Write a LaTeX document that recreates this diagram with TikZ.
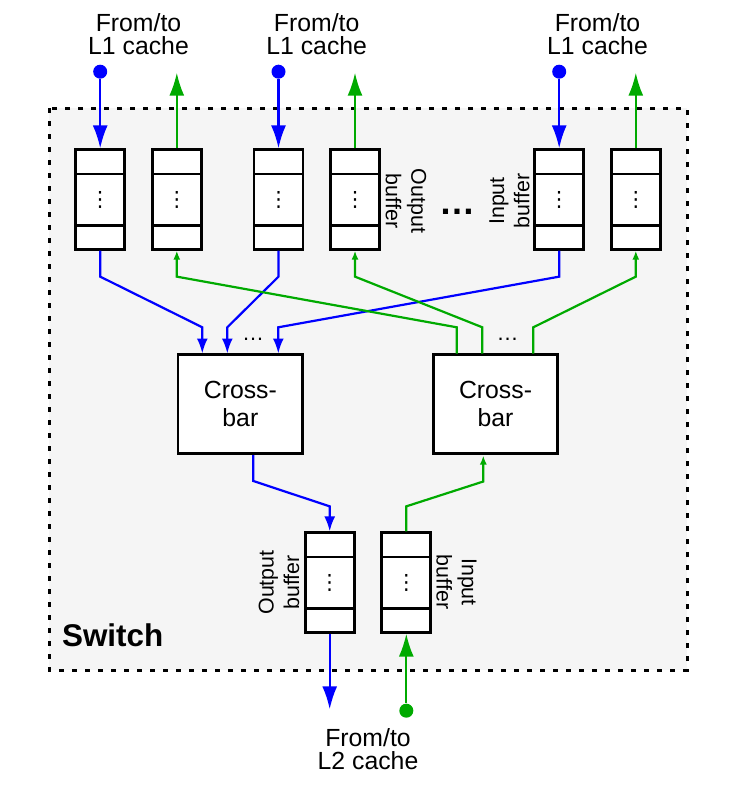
\documentclass[tikz,border=0pt]{standalone}
\usepackage{fontspec}
\setmainfont{Liberation Sans}
\newfontfamily\symfont{DejaVu Sans}
\usetikzlibrary{arrows.meta,calc}

\newcommand{\bufdots}{{\symfont ⋮}}

\begin{document}
\begin{tikzpicture}[x=0.5pt,y=0.5pt,yscale=-1,xscale=1,
  buf/.style={draw, line width=1.35pt, fill=white, inner sep=0pt,
    minimum width=24.5pt, minimum height=49.8pt, font=\fontsize{10.5}{12}\selectfont,
    path picture={
      \draw[line width=1.35pt] ($(path picture bounding box.north west)!.245!(path picture bounding box.south west)$) -- ($(path picture bounding box.north east)!.245!(path picture bounding box.south east)$);
      \draw[line width=1.35pt] ($(path picture bounding box.north west)!.76!(path picture bounding box.south west)$) -- ($(path picture bounding box.north east)!.76!(path picture bounding box.south east)$);
    }},
  xbar/.style={draw, line width=1.35pt, fill=white, inner sep=0pt, align=center,
    minimum width=62.3pt, minimum height=49.5pt, font=\fontsize{12.4}{13.7}\selectfont},
  cachelbl/.style={align=center, inner sep=0pt, font=\fontsize{12.4}{11.7}\selectfont},
  buflbl/.style={align=center, inner sep=0pt, font=\fontsize{10.7}{12.7}\selectfont},
  bl/.style={draw={rgb, 255:red, 0; green, 0; blue, 255}, line width=1.1pt},
  gl/.style={draw={rgb, 255:red, 0; green, 170; blue, 0}, line width=1.1pt},
  bdot/.style={circle, inner sep=0pt, minimum size=7pt, fill={rgb, 255:red, 0; green, 0; blue, 255}},
  gdot/.style={circle, inner sep=0pt, minimum size=7pt, fill={rgb, 255:red, 0; green, 170; blue, 0}},
  bigarr/.style={-{Latex[length=11.5pt,width=7.5pt]}},
  midarr/.style={-{Latex[length=7.5pt,width=5.5pt]}},
  smallarr/.style={-{Latex[length=4.5pt,width=3.5pt]}}
]
\useasboundingbox (0,0) rectangle (737,790);

% switch frame
\draw[line width=1.5pt, dash pattern=on 2.5pt off 4pt, fill={rgb, 255:red, 245; green, 245; blue, 245}] (49,108.3) rectangle (687.3,670);
\node[anchor=base west, inner sep=0pt, font=\fontsize{15.7}{18}\selectfont\bfseries] (sw) at (61.7,646) {Switch};

% buffers towards the L1 caches
\node[buf] (b1) at (100.2,199.5) {\bufdots};
\node[buf] (b2) at (176.8,199.5) {\bufdots};
\node[buf] (b3) at (278.5,199.5) {\bufdots};
\node[buf] (b4) at (355,199.5) {\bufdots};
\node[buf] (b5) at (559.2,199.5) {\bufdots};
\node[buf] (b6) at (635.8,199.5) {\bufdots};

\node[buflbl, rotate=-90] (ob1) at (406,201) {Output\\buffer};
\node[buflbl, rotate=90] (ib1) at (509.5,201) {Input\\buffer};
\node[anchor=base, inner sep=0pt, font=\fontsize{18}{18}\selectfont\bfseries] (gap) at (457.5,214.3) {…};

\node[cachelbl] (l1a) at (138.5,34.3) {From/to\\L1 cache};
\node[cachelbl] (l1b) at (316.7,34.3) {From/to\\L1 cache};
\node[cachelbl] (l1c) at (597.5,34.3) {From/to\\L1 cache};

\node[bdot] (s1) at (100.2,71.7) {};
\node[bdot] (s2) at (278.5,71.7) {};
\node[bdot] (s3) at (559.2,71.7) {};
\coordinate (o1) at (176.8,72.7);
\coordinate (o2) at (355,72.7);
\coordinate (o3) at (635.8,72.7);

\draw[bl, bigarr] (s1) -- (b1);
\draw[bl, bigarr] (s2) -- (b3);
\draw[bl, bigarr] (s3) -- (b5);
\draw[gl, bigarr] (b2) -- (o1);
\draw[gl, bigarr] (b4) -- (o2);
\draw[gl, bigarr] (b6) -- (o3);

% crossbars
\node[xbar] (cbl) at (240.35,404.15) {Cross-\\bar};
\node[xbar] (cbr) at (495.5,404.15) {Cross-\\bar};

\coordinate (pl1) at (202.3,353.5);
\coordinate (pl2) at (227.3,353.5);
\coordinate (pl3) at (278.3,353.5);
\coordinate (pl4) at (253.3,455);
\coordinate (pr1) at (456.7,353.5);
\coordinate (pr2) at (482.3,353.5);
\coordinate (pr3) at (533.3,353.5);
\coordinate (pr4) at (483.3,455.5);

\node[anchor=base, inner sep=0pt, font=\fontsize{11}{11}\selectfont] (dl) at (253,340.5) {…};
\node[anchor=base, inner sep=0pt, font=\fontsize{11}{11}\selectfont] (dr) at (507.5,340.5) {…};

\draw[bl, midarr] (b1.south) -- ++(0,26) -- ($(pl1)+(0,-26.2)$) -- (pl1);
\draw[bl, midarr] (b3.south) -- ++(0,26) -- ($(pl2)+(0,-26.2)$) -- (pl2);
\draw[bl, midarr] (b5.south) -- ++(0,26) -- ($(pl3)+(0,-26.2)$) -- (pl3);
\draw[gl, smallarr] (pr1) -- ++(0,-26.2) -- ($(b2.south)+(0,26)$) -- (b2.south);
\draw[gl, smallarr] (pr2) -- ++(0,-26.2) -- ($(b4.south)+(0,26)$) -- (b4.south);
\draw[gl, smallarr] (pr3) -- ++(0,-26.2) -- ($(b6.south)+(0,26)$) -- (b6.south);

% buffers towards the L2 cache
\node[buf] (b7) at (329.7,582.5) {\bufdots};
\node[buf] (b8) at (406.3,582.5) {\bufdots};
\node[buflbl, rotate=90] (ob2) at (279,582.5) {Output\\buffer};
\node[buflbl, rotate=-90] (ib2) at (456.5,582) {Input\\buffer};

\draw[bl, midarr] (pl4) -- ++(0,26) -- ($(b7.north)+(0,-25)$) -- (b7.north);
\draw[gl, smallarr] (b8.north) -- ++(0,-25) -- ($(pr4)+(0,26)$) -- (pr4);

\coordinate (e1) at (329.7,709.3);
\node[gdot] (s4) at (406.3,710.7) {};
\draw[bl, bigarr] (b7) -- (e1);
\draw[gl, bigarr] (s4) -- (b8);

\node[cachelbl] (l2) at (368,749.3) {From/to\\L2 cache};

\end{tikzpicture}
\end{document}
